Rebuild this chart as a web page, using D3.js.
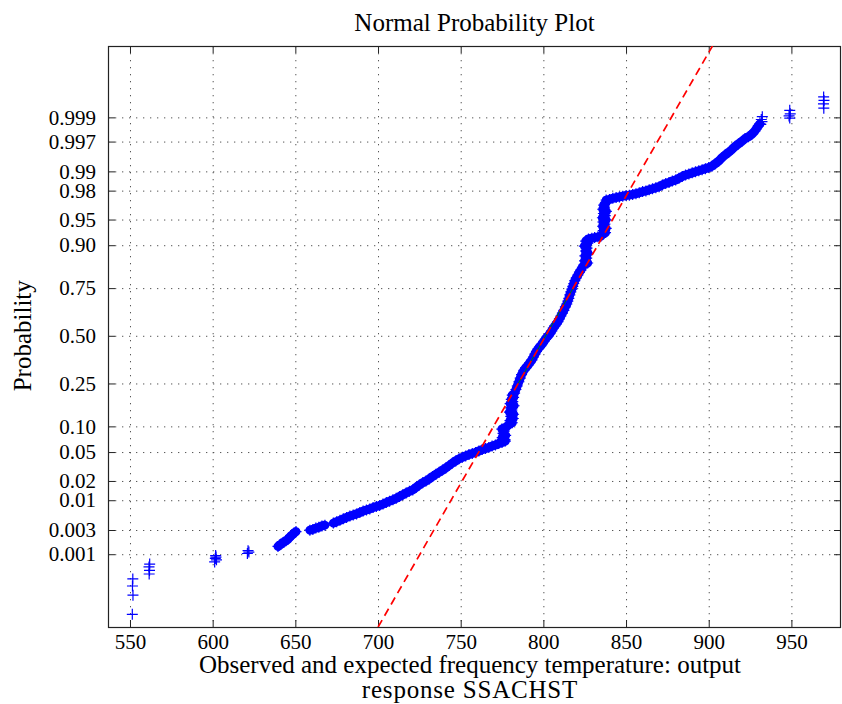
<!DOCTYPE html>
<html>
<head>
<meta charset="utf-8">
<script src="https://cdn.jsdelivr.net/npm/d3@7"></script>
<style>
  body { margin: 0; background: #fff; }
  text { font-family: "Liberation Serif", "Times New Roman", serif; fill: #000; }
</style>
</head>
<body>
<div id="chart"></div>
<script>
// axis ticks
var probTicks = [0.001, 0.003, 0.01, 0.02, 0.05, 0.10, 0.25, 0.50, 0.75, 0.90, 0.95, 0.98, 0.99, 0.997, 0.999]
var probTickLabels = ['0.001', '0.003', '0.01', '0.02', '0.05', '0.10', '0.25', '0.50', '0.75', '0.90', '0.95', '0.98', '0.99', '0.997', '0.999']
var tempTicks = [550, 600, 650, 700, 750, 800, 850, 900, 950]

// observed temperature, normal score
// isolated clusters at the bottom
var lowTail = [
  [551.4, -3.94], [551.8, -3.67], [551.5, -3.54], [551.7, -3.44],
  [561.6, -3.37], [561.8, -3.32], [561.5, -3.27], [561.9, -3.23],
  [601.2, -3.20], [602.3, -3.17], [601.6, -3.15], [602.0, -3.13], [601.8, -3.11],
  [621.0, -3.08], [621.9, -3.06], [621.4, -3.04]
]

// short dense runs before the main curve
var lowRunA = [
  [639.5, -2.98], [640.4, -2.96], [641.3, -2.95], [642.2, -2.93], [643.1, -2.92], [644.3, -2.90],
  [645.5, -2.88], [646.1, -2.86], [646.7, -2.85], [647.3, -2.83], [647.9, -2.82], [648.5, -2.81],
  [649.2, -2.79], [650.4, -2.77]
]
var lowRunB = [
  [658.8, -2.75], [660.6, -2.74], [662.4, -2.72], [664.2, -2.71], [666.1, -2.69], [667.9, -2.68]
]

var lowerBody = [
  [673, -2.65], [675, -2.63], [677, -2.61], [679, -2.59], [681, -2.57], [683, -2.55], [685, -2.535],
  [687, -2.52], [689, -2.50], [691, -2.48], [693, -2.465], [695, -2.45], [697, -2.43], [699, -2.415],
  [701, -2.40], [703, -2.38], [705, -2.36], [707, -2.34], [709, -2.32], [711, -2.30], [713, -2.275],
  [715, -2.25], [717, -2.225], [719, -2.20], [721, -2.18], [723, -2.145], [725, -2.11], [727, -2.08],
  [729, -2.055], [731, -2.025], [733, -1.99], [735, -1.96], [737, -1.93], [739, -1.90], [741, -1.87],
  [743, -1.835], [745, -1.80], [747, -1.77], [749, -1.74], [751, -1.72], [753, -1.70], [755, -1.68],
  [757, -1.665], [759, -1.65], [761, -1.63], [763, -1.61], [765, -1.595], [767, -1.58], [769, -1.56],
  [771, -1.545], [773, -1.525], [775, -1.51], [777, -1.49]
]

var midBody = [
  [774.2, -1.50], [776.8, -1.47], [775.1, -1.44], [777.2, -1.41], [775.6, -1.38], [776.3, -1.35],
  [774.9, -1.32], [777.5, -1.29],
  [779.0, -1.26], [781.2, -1.23], [779.8, -1.20], [781.8, -1.17], [780.3, -1.14], [782.0, -1.11],
  [779.5, -1.08], [781.0, -1.05], [780.2, -1.02], [782.3, -0.99], [779.9, -0.96], [781.5, -0.93],
  [780.6, -0.90], [782.0, -0.87], [781.2, -0.84], [782.6, -0.81],
  [783.4, -0.76], [784.2, -0.71], [785.2, -0.65], [786.0, -0.60], [786.8, -0.55], [788.2, -0.49],
  [789.4, -0.45], [790.6, -0.42], [791.8, -0.38], [793.1, -0.34], [794.0, -0.30], [794.9, -0.26],
  [795.8, -0.22], [796.7, -0.19], [797.6, -0.16], [798.5, -0.14], [799.4, -0.11], [800.3, -0.08],
  [801.2, -0.05], [802.1, -0.02], [803.0, 0.00], [803.9, 0.03], [805.1, 0.07], [806.0, 0.11],
  [807.0, 0.14], [807.9, 0.17], [808.8, 0.20], [809.7, 0.24], [810.6, 0.28], [811.5, 0.32],
  [812.4, 0.36], [813.3, 0.41], [814.2, 0.45], [814.8, 0.49], [815.4, 0.53], [816.0, 0.58],
  [816.6, 0.62], [817.2, 0.66], [817.8, 0.70], [818.4, 0.74], [819.0, 0.78], [819.9, 0.82],
  [820.9, 0.86], [821.8, 0.90], [822.7, 0.93], [823.6, 0.97], [824.5, 1.00],
  [826.8, 1.03], [824.9, 1.06], [826.2, 1.10], [825.1, 1.13], [827.0, 1.17], [825.5, 1.20],
  [826.4, 1.24], [824.8, 1.27], [826.9, 1.31], [825.6, 1.34], [827.3, 1.37],
  [829.3, 1.38], [831.0, 1.39], [833.0, 1.40], [834.8, 1.41],
  [835.5, 1.43], [837.6, 1.46], [836.2, 1.49], [838.0, 1.52], [835.8, 1.55], [837.2, 1.58],
  [836.0, 1.61], [837.9, 1.64], [835.7, 1.67], [837.4, 1.70], [836.3, 1.73], [838.1, 1.76],
  [835.9, 1.79], [837.0, 1.82], [836.5, 1.85], [837.8, 1.88]
]

var upperBody = [
  [838, 1.92], [840, 1.93], [842, 1.945], [844, 1.955], [846, 1.965], [848, 1.975], [850, 1.985],
  [852, 1.99], [854, 2.00], [856, 2.01], [858, 2.025], [860, 2.04], [862, 2.05], [864, 2.065],
  [866, 2.08], [868, 2.095], [870, 2.11], [872, 2.135], [874, 2.155], [876, 2.17], [878, 2.19],
  [880, 2.205], [882, 2.23], [884, 2.255], [886, 2.275], [888, 2.29], [890, 2.305], [892, 2.32],
  [894, 2.335], [896, 2.35], [898, 2.365], [900, 2.38], [902, 2.40], [904, 2.435], [906, 2.47],
  [908, 2.52], [910, 2.56], [912, 2.595], [914, 2.635], [916, 2.68], [918, 2.715], [920, 2.75],
  [922, 2.79], [924, 2.815], [926, 2.85], [928, 2.90], [930, 2.97], [931, 3.00]
]

var highTail = [
  [931.5, 2.99], [932.2, 3.03], [931.8, 3.06], [932.4, 3.10],
  [949.0, 3.08], [948.6, 3.11], [949.3, 3.14], [949.0, 3.19],
  [969.6, 3.22], [969.4, 3.28], [969.7, 3.33], [969.5, 3.38]
]

// reference normal fit
var fitMean = 801.4
var fitSd = 24.6

var denseRuns = [lowRunA, lowRunB, lowerBody, midBody.concat(upperBody)]
var allPoints = [].concat(lowTail, lowRunA, lowRunB, lowerBody, midBody, upperBody, highTail)

// inverse normal cdf (Acklam) so the probability ticks land on the probit scale
function probit(p){
  var a = [-39.69683028665376, 220.9460984245205, -275.9285104469687, 138.3577518672690, -30.66479806614716, 2.506628277459239]
  var b = [-54.47609879822406, 161.5858589980634, -155.6989798598866, 66.80131188771972, -13.28068155288572]
  var c = [-0.007784894002430293, -0.3223964580411365, -2.400758277161838, -2.549732539343734, 4.374664141464968, 2.938163982698783]
  var d = [0.007784695709041462, 0.3224671290700398, 2.445134137142996, 3.754408661907416]
  var q, r
  if (p < 0.02425){
    q = Math.sqrt(-2*Math.log(p))
    return (((((c[0]*q+c[1])*q+c[2])*q+c[3])*q+c[4])*q+c[5]) / ((((d[0]*q+d[1])*q+d[2])*q+d[3])*q+1)
  }
  if (p > 1 - 0.02425){
    q = Math.sqrt(-2*Math.log(1-p))
    return -(((((c[0]*q+c[1])*q+c[2])*q+c[3])*q+c[4])*q+c[5]) / ((((d[0]*q+d[1])*q+d[2])*q+d[3])*q+1)
  }
  q = p - 0.5
  r = q*q
  return (((((a[0]*r+a[1])*r+a[2])*r+a[3])*r+a[4])*r+a[5])*q / (((((b[0]*r+b[1])*r+b[2])*r+b[3])*r+b[4])*r+1)
}

var W = 842, H = 704
var margin = {left: 108, top: 46, right: 1, bottom: 77}
var width = W - margin.left - margin.right
var height = H - margin.top - margin.bottom

var svg = d3.select('#chart').append('svg')
  .attr('width', W).attr('height', H)

var g = svg.append('g').attr('transform', `translate(${margin.left},${margin.top})`)

var x = d3.scaleLinear().domain([536.7, 980]).range([0, width])
var y = d3.scaleLinear().domain([-4.12, 4.10]).range([height, 0])

g.append('clipPath').attr('id', 'clip')
  .append('rect').attr('width', width).attr('height', height)

// dotted grid
var grid = g.append('g').attr('stroke', '#555').attr('stroke-width', 1).attr('stroke-dasharray', '1.3,5.7')
grid.selectAll('line.vx').data(tempTicks).join('line')
  .attr('x1', d => x(d) + .5).attr('x2', d => x(d) + .5)
  .attr('y1', 0).attr('y2', height)
grid.selectAll('line.hy').data(probTicks).join('line')
  .attr('y1', d => y(probit(d)) + .5).attr('y2', d => y(probit(d)) + .5)
  .attr('x1', 0).attr('x2', width)

// axes, ticks pointing inward, mirrored on all four sides
var tickLen = 7
var xAxisB = d3.axisBottom(x).tickValues(tempTicks).tickSize(-tickLen).tickPadding(tickLen + 6).tickSizeOuter(0)
var xAxisT = d3.axisTop(x).tickValues(tempTicks).tickSize(-tickLen).tickFormat('').tickSizeOuter(0)
var yAxisL = d3.axisLeft(y).tickValues(probTicks.map(probit)).tickSize(-tickLen).tickPadding(tickLen + 5).tickSizeOuter(0)
  .tickFormat((d, i) => probTickLabels[i])
var yAxisR = d3.axisRight(y).tickValues(probTicks.map(probit)).tickSize(-tickLen).tickFormat('').tickSizeOuter(0)

function styleAxis(sel){
  sel.selectAll('.domain').remove()
  sel.selectAll('.tick line').attr('stroke', '#222')
  sel.selectAll('text').attr('font-family', '"Liberation Serif", serif').attr('font-size', 21).attr('fill', '#000')
}

g.append('g').attr('transform', `translate(0,${height})`).call(xAxisB).call(styleAxis)
  .selectAll('text').attr('dy', '0.71em').attr('y', 7)
g.append('g').call(xAxisT).call(styleAxis)
g.append('g').call(yAxisL).call(styleAxis)
g.append('g').attr('transform', `translate(${width},0)`).call(yAxisR).call(styleAxis)

// box
g.append('rect').attr('x', .5).attr('y', .5).attr('width', width - 1).attr('height', height)
  .attr('fill', 'none').attr('stroke', '#222').attr('stroke-width', 1.2)

var plotArea = g.append('g').attr('clip-path', 'url(#clip)')

// the dense runs of overlapping markers read as a solid band
var runLine = d3.line().x(d => x(d[0])).y(d => y(d[1]))
plotArea.selectAll('path.run').data(denseRuns).join('path')
  .attr('class', 'run')
  .attr('d', runLine)
  .attr('fill', 'none').attr('stroke', '#0000ff').attr('stroke-width', 9)
  .attr('stroke-linejoin', 'round').attr('stroke-linecap', 'round')

// data markers
var plus = 'M-5.5,0H5.5M0,-5.5V5.5'
plotArea.selectAll('path.pt').data(allPoints).join('path')
  .attr('class', 'pt')
  .attr('d', plus)
  .attr('transform', d => `translate(${x(d[0])},${y(d[1])})`)
  .attr('fill', 'none').attr('stroke', '#0000ff').attr('stroke-width', 1.2)

// fit line: solid green between quartiles, red dashed across
var fitLine = d3.line().x(d => x(fitMean + fitSd*d)).y(d => y(d))
plotArea.append('path')
  .datum([probit(0.25), probit(0.75)])
  .attr('d', fitLine)
  .attr('stroke', '#008000').attr('stroke-width', 1).attr('fill', 'none')
plotArea.append('path')
  .datum(y.domain())
  .attr('d', fitLine)
  .attr('stroke', '#ff0000').attr('stroke-width', 1.7).attr('fill', 'none')
  .attr('stroke-dasharray', '8,5')

// labels
svg.append('text').text('Normal Probability Plot')
  .attr('x', margin.left + width/2).attr('y', 31)
  .attr('text-anchor', 'middle').attr('font-size', 25)

svg.append('text').text('Probability')
  .attr('transform', `translate(31,${margin.top + y(0)}) rotate(-90)`)
  .attr('text-anchor', 'middle').attr('font-size', 25)

svg.append('text').text('Observed and expected frequency temperature: output')
  .attr('x', 470).attr('y', 673)
  .attr('text-anchor', 'middle').attr('font-size', 25)
svg.append('text').text('response SSACHST')
  .attr('x', 470).attr('y', 698)
  .attr('text-anchor', 'middle').attr('font-size', 25)
  .attr('letter-spacing', 0.8)
</script>
</body>
</html>
